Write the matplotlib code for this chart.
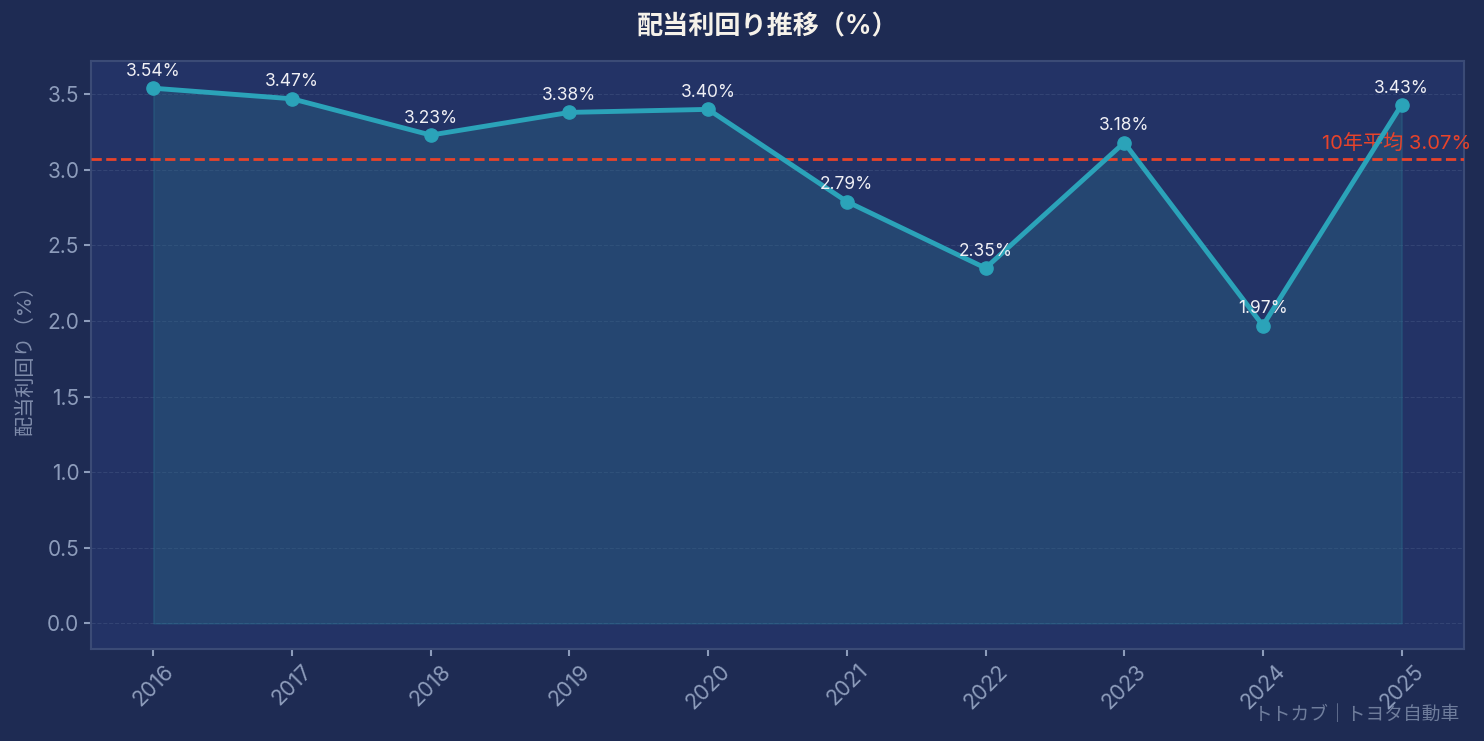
import matplotlib
matplotlib.use("Agg")
import matplotlib.pyplot as plt
import numpy as np

plt.rcParams["font.family"] = ["Inter", "Noto Sans CJK JP", "DejaVu Sans"]

# --- data -------------------------------------------------------------
years = ["2016", "2017", "2018", "2019", "2020",
         "2021", "2022", "2023", "2024", "2025"]
yields = [3.54, 3.47, 3.23, 3.38, 3.40, 2.79, 2.35, 3.18, 1.97, 3.43]

FIG_BG = "#1e2b53"
AX_BG = "#233366"
LINE = "#2ba3b9"
AVG = "#e8432a"
TICK = "#8d9cbb"

avg = float(np.mean(yields))
x = np.arange(len(years))

fig = plt.figure(figsize=(14.84, 7.41), dpi=100)
fig.patch.set_facecolor(FIG_BG)
ax = fig.add_axes([91 / 1484, 1 - 649 / 741, (1464 - 91) / 1484, (649 - 61) / 741])
ax.set_facecolor(AX_BG)

ax.fill_between(x, yields, 0, color="#2a6a86", alpha=0.35,
                edgecolor="#2a7a96", linewidth=1)
ax.plot(x, yields, color=LINE, lw=3.5, marker="o", markersize=9.5, zorder=5)

for xi, v in zip(x, yields):
    ax.annotate(f"{v:.2f}%", (xi, v), xytext=(0, 6), textcoords="offset points",
                ha="center", va="bottom", fontsize=12.5, color="#f0f0f5", zorder=6)

ax.axhline(avg, color=AVG, lw=2, ls="--", zorder=4)
ax.text(len(years) - 0.5, avg + 0.03, f"10年平均 {avg:.2f}%",
        ha="right", va="bottom", fontsize=14.5, color=AVG)

ax.set_xlim(-0.45, len(years) - 0.55)
ax.set_ylim(-0.17, 3.72)
ax.set_xticks(x)
ax.set_xticklabels(years, rotation=45, ha="center", fontsize=15.5, color=TICK)
ax.set_yticks(np.arange(0, 3.51, 0.5))
ax.set_yticklabels([f"{t:.1f}" for t in np.arange(0, 3.51, 0.5)],
                   fontsize=15, color=TICK)
ax.tick_params(colors=TICK, length=5, width=1.5)
ax.grid(axis="y", color="#3b4c7a", ls="--", lw=0.8, alpha=0.7)
ax.set_axisbelow(True)
for sp in ax.spines.values():
    sp.set_color("#3b4b76")
    sp.set_linewidth(1.5)

ax.set_ylabel("配当利回り（%）", fontsize=14.5, color="#7f8cab", labelpad=9)

fig.text(768 / 1484, 1 - 27 / 741, "配当利回り推移（%）", ha="center", va="center",
         fontsize=18.8, fontweight="bold", color="#f6f2ea")
fig.text(1460 / 1484, 1 - 715 / 741, "トトカブ｜トヨタ自動車", ha="right",
         va="center", fontsize=13.5, color="#6f7d9c")

fig.savefig("out.png", dpi=100, facecolor=FIG_BG)
